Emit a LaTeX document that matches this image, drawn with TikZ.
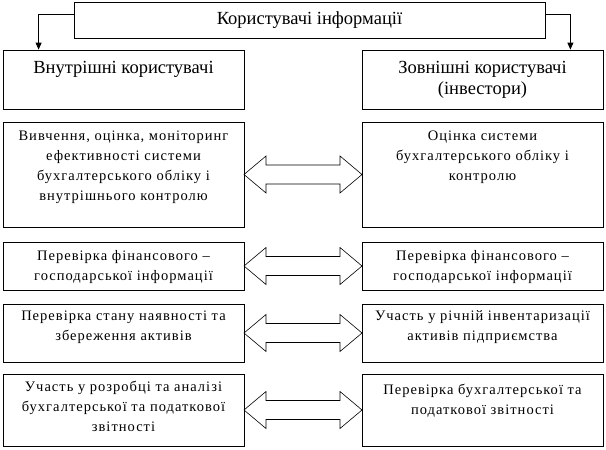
\documentclass[tikz,border=0pt]{standalone}
\usepackage{fontspec}
\setmainfont{Liberation Serif}
\newfontfamily\bodyfont[LetterSpace=7]{Liberation Serif}
\usetikzlibrary{calc,arrows.meta}
\begin{document}
\begin{tikzpicture}[x=1pt,y=-1pt,
  box/.style={draw, line width=0.8pt, inner sep=0pt},
  txt/.style={font=\bodyfont\fontsize{14.5}{20}\selectfont, align=center, inner sep=0pt},
  head/.style={font=\fontsize{18.5}{21}\selectfont, align=center, inner sep=0pt},
  conn/.style={line width=0.8pt, -{Triangle[width=6pt,length=7pt]}},
  dblarr/.pic={\draw[line width=0.6pt] (-59,0) -- (-37,-18.5) -- (-37,-9.5) -- (37,-9.5) -- (37,-18.5) -- (59,0) -- (37,18.5) -- (37,9.5) -- (-37,9.5) -- (-37,18.5) -- cycle;}
]
\useasboundingbox (0,0) rectangle (606,450);
% boxes
\node[box, minimum width=471, minimum height=35.5] (top) at (309.5,20.25) {};
\node[box, minimum width=241, minimum height=59] (LH) at (123.5,79.5) {};
\node[box, minimum width=241, minimum height=59] (RH) at (482.5,79.5) {};
\node[box, minimum width=241, minimum height=105] (L1) at (123.5,174.5) {};
\node[box, minimum width=241, minimum height=105] (R1) at (482.5,174.5) {};
\node[box, minimum width=241, minimum height=48] (L2) at (123.5,266) {};
\node[box, minimum width=241, minimum height=48] (R2) at (482.5,266) {};
\node[box, minimum width=241, minimum height=58] (L3) at (123.5,333) {};
\node[box, minimum width=241, minimum height=58] (R3) at (482.5,333) {};
\node[box, minimum width=241, minimum height=72] (L4) at (123.5,410) {};
\node[box, minimum width=241, minimum height=72] (R4) at (482.5,410) {};
% texts
\node[head] (topt) at (top.center) {Користувачі інформації};
\node[head] (LHt) at (123.5,69) {Внутрішні користувачі};
\node[head] (RHt) at (482.5,79.5) {Зовнішні користувачі\\(інвестори)};
\node[txt] (L1t) at (123.5,167) {Вивчення, оцінка, моніторинг\\ефективності системи\\бухгалтерського обліку і\\внутрішнього контролю};
\node[txt] (R1t) at (482.5,157) {Оцінка системи\\бухгалтерського обліку і\\контролю};
\node[txt] (L2t) at (123.5,267.5) {Перевірка фінансового –\\господарської інформації};
\node[txt] (R2t) at (482.5,267.5) {Перевірка фінансового –\\господарської інформації};
\node[txt] (L3t) at (123.5,327) {Перевірка стану наявності та\\збереження активів};
\node[txt] (R3t) at (482.5,327) {Участь у річній інвентаризації\\активів підприємства};
\node[txt] (L4t) at (123.5,406) {Участь у розробці та аналізі\\бухгалтерської та податкової\\звітності};
\node[txt] (R4t) at (482.5,400.5) {Перевірка бухгалтерської та\\податкової звітності};
% connectors
\coordinate (tl) at ($(top.north west)+(0,12)$);
\coordinate (tr) at ($(top.north east)+(0,12)$);
\coordinate (hl) at ($(LH.north west)+(36,0)$);
\coordinate (hr) at ($(RH.north east)+(-33,0)$);
\draw[conn] (tl) -| (hl);
\draw[conn] (tr) -| (hr);
% double arrows
\pic at ($(L1.east)!0.5!(R1.west)$) {dblarr};
\pic at ($(L2.east)!0.5!(R2.west)$) {dblarr};
\pic at ($(L3.east)!0.5!(R3.west)$) {dblarr};
\pic at ($(L4.east)!0.5!(R4.west)$) {dblarr};
\end{tikzpicture}
\end{document}
